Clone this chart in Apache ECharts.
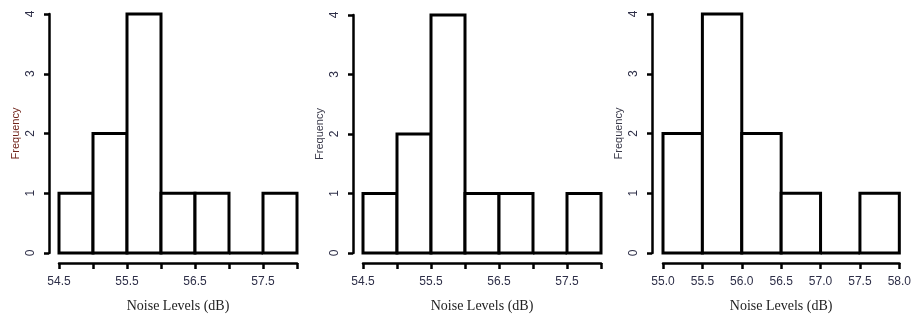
<!DOCTYPE html>
<html lang="en">
<head>
    <meta charset="UTF-8">
    <title>Noise Levels</title>
    <script src="https://cdn.jsdelivr.net/npm/echarts@6/dist/echarts.min.js"></script>
    <style>
        html, body { margin: 0; padding: 0; background: #fff; }
        #main { width: 914px; height: 320px; }
    </style>
</head>
<body>
<div id="main"></div>
<script type="text/javascript">
    // bin edges (start of each bin) and counts per panel
    var binStarts1 = [54.5, 55.0, 55.5, 56.0, 56.5, 57.0, 57.5];
    var counts1 = [1, 2, 4, 1, 1, 0, 1];
    var binStarts2 = [54.5, 55.0, 55.5, 56.0, 56.5, 57.0, 57.5];
    var counts2 = [1, 2, 4, 1, 1, 0, 1];
    var binStarts3 = [55.0, 55.5, 56.0, 56.5, 57.0, 57.5];
    var counts3 = [2, 4, 2, 1, 0, 1];
    var binWidth = 0.5;

    var xLabels1 = ['54.5', '', '55.5', '', '56.5', '', '57.5', ''];
    var xLabels2 = ['54.5', '', '55.5', '', '56.5', '', '57.5', ''];
    var xLabels3 = ['55.0', '55.5', '56.0', '56.5', '57.0', '57.5', '58.0'];
    var yTicks = ['0', '1', '2', '3', '4'];

    var panels = [
        { starts: binStarts1, counts: counts1, labels: xLabels1, min: 54.5, max: 58.0,
          grid: { left: 59, top: 14, width: 238, height: 239 }, yOffset: 10, nameColor: '#72261c' },
        { starts: binStarts2, counts: counts2, labels: xLabels2, min: 54.5, max: 58.0,
          grid: { left: 363, top: 15, width: 238, height: 238 }, yOffset: 10, nameColor: '#3a3a4a' },
        { starts: binStarts3, counts: counts3, labels: xLabels3, min: 55.0, max: 58.0,
          grid: { left: 663, top: 14, width: 240, height: 239 }, yOffset: 11, nameColor: '#3a3a4a' }
    ];

    var tickColor = '#2e2f48';
    var lineStyle = { color: '#000', width: 2.5 };

    var grids = [], xAxes = [], yAxes = [], series = [];
    panels.forEach(function (p, i) {
        grids.push(p.grid);
        xAxes.push({
            type: 'value', gridIndex: i, min: p.min, max: p.max, interval: binWidth,
            offset: 10,
            name: 'Noise Levels (dB)', nameLocation: 'middle', nameGap: 36,
            nameTextStyle: { fontFamily: 'Liberation Serif', fontSize: 14, color: '#222' },
            axisLine: { show: true, onZero: false, lineStyle: lineStyle },
            axisTick: { show: true, length: 6, lineStyle: lineStyle },
            splitLine: { show: false },
            axisLabel: {
                margin: 13, fontFamily: 'Liberation Sans', fontSize: 12, color: tickColor,
                showMinLabel: true, showMaxLabel: true,
                formatter: (function (labels, min) {
                    return function (v) { return labels[Math.round((v - min) / binWidth)] || ''; };
                })(p.labels, p.min)
            }
        });
        yAxes.push({
            type: 'value', gridIndex: i, min: 0, max: 4, interval: 1,
            offset: p.yOffset,
            name: 'Frequency', nameLocation: 'middle', nameGap: 28,
            nameTextStyle: { fontFamily: 'Liberation Sans', fontSize: 11, color: p.nameColor },
            axisLine: { show: true, lineStyle: lineStyle },
            axisTick: { show: true, length: 5, lineStyle: lineStyle },
            splitLine: { show: false },
            axisLabel: {
                rotate: 90, margin: 12, fontFamily: 'Liberation Sans', fontSize: 12, color: tickColor,
                formatter: function (v) { return yTicks[v]; }
            }
        });
        series.push({
            type: 'custom', xAxisIndex: i, yAxisIndex: i,
            data: p.starts.map(function (s, k) { return [s, s + binWidth, p.counts[k]]; }),
            encode: { x: [0, 1], y: 2 },
            renderItem: function (params, api) {
                var a = api.coord([api.value(0), api.value(2)]);
                var b = api.coord([api.value(1), 0]);
                return {
                    type: 'rect',
                    shape: { x: a[0], y: a[1], width: b[0] - a[0], height: b[1] - a[1] },
                    style: { fill: '#fff', stroke: '#000', lineWidth: 3 }
                };
            }
        });
    });

    var myChart = echarts.init(document.getElementById('main'));
    myChart.setOption({
        animation: false,
        backgroundColor: '#fff',
        grid: grids,
        xAxis: xAxes,
        yAxis: yAxes,
        series: series
    });
</script>
</body>
</html>
